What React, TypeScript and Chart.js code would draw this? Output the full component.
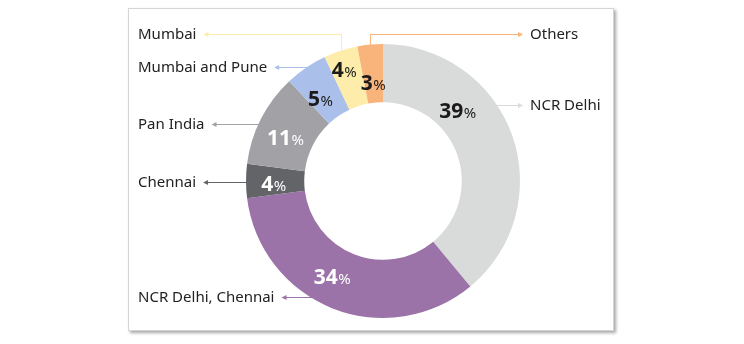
import React, { useEffect, useRef } from "react";
import { Chart, registerables } from "chart.js";

Chart.register(...registerables);

// ---- data ----
const categories = [
  "NCR Delhi",
  "NCR Delhi, Chennai",
  "Chennai",
  "Pan India",
  "Mumbai and Pune",
  "Mumbai",
  "Others",
];
const shares = [39, 34, 4, 11, 5, 4, 3];
const sliceColors = ["#D9DADA", "#9C73A8", "#636468", "#A2A1A5", "#AAC0EA", "#FDECAA", "#F9B47C"];
const valueTextColors = ["#1b1b1b", "#ffffff", "#ffffff", "#ffffff", "#1b1b1b", "#1b1b1b", "#1b1b1b"];

// ---- label layout ----
const calloutSide = ["right", "left", "left", "left", "left", "left", "right"];
const calloutY = [105, 297, 182, 124, 67, 34, 34];
const calloutElbow = [false, false, false, false, false, true, true];
const valueAngleShiftDeg = [-23.6, 6.4, -1.5, -2.8, -3, -1.4, -0.5];
const valueRadiusFrac = [0.41, 0.51, 0.53, 0.49, 0.43, 0.67, 0.34];

const FONT = '"Noto Sans", "Open Sans", sans-serif';

const calloutPlugin = {
  id: "callouts",
  afterDatasetsDraw(chart: any) {
    const ctx: CanvasRenderingContext2D = chart.ctx;
    const meta = chart.getDatasetMeta(0);
    ctx.save();
    meta.data.forEach((arc: any, i: number) => {
      const { x, y, startAngle, endAngle, innerRadius, outerRadius } = arc.getProps(
        ["x", "y", "startAngle", "endAngle", "innerRadius", "outerRadius"],
        true
      );
      const mid = (startAngle + endAngle) / 2;

      // value label
      const a = mid + (valueAngleShiftDeg[i] * Math.PI) / 180;
      const r = innerRadius + (outerRadius - innerRadius) * valueRadiusFrac[i];
      const lx = x + r * Math.cos(a);
      const ly = y + r * Math.sin(a);
      const num = String(shares[i]);
      ctx.font = `bold 21px ${FONT}`;
      const w1 = ctx.measureText(num).width;
      ctx.font = `15px ${FONT}`;
      const w2 = ctx.measureText("%").width;
      const sx = lx - (w1 + w2) / 2;
      const base = ly + 7.5;
      ctx.fillStyle = valueTextColors[i];
      ctx.textAlign = "left";
      ctx.textBaseline = "alphabetic";
      ctx.font = `bold 21px ${FONT}`;
      ctx.fillText(num, sx, base);
      ctx.font = `15px ${FONT}`;
      ctx.fillText("%", sx + w1 + 0.5, base);

      // callout
      const Y = calloutY[i];
      const left = calloutSide[i] === "left";
      ctx.font = `15px ${FONT}`;
      const tw = ctx.measureText(categories[i]).width;
      const textX = left ? 138 : 530;
      const tipX = left ? textX + tw + 7 : 523;
      ctx.strokeStyle = sliceColors[i];
      ctx.fillStyle = sliceColors[i];
      ctx.lineWidth = 1;
      ctx.beginPath();
      let startX: number;
      if (calloutElbow[i]) {
        const px = x + outerRadius * Math.cos(mid);
        const py = y + outerRadius * Math.sin(mid);
        startX = Math.round(px) + 0.5;
        ctx.moveTo(startX, py);
        ctx.lineTo(startX, Y + 0.5);
      } else {
        const dy = Y - y;
        const dx = Math.sqrt(Math.max(0, outerRadius * outerRadius - dy * dy));
        startX = left ? x - dx + 2 : x + dx - 2;
        ctx.moveTo(startX, Y + 0.5);
      }
      const dir = left ? -1 : 1;
      ctx.lineTo(tipX - dir * 4, Y + 0.5);
      ctx.stroke();
      // arrow head
      ctx.beginPath();
      ctx.moveTo(tipX, Y + 0.5);
      ctx.lineTo(tipX - dir * 5, Y + 0.5 - 2.5);
      ctx.lineTo(tipX - dir * 5, Y + 0.5 + 2.5);
      ctx.closePath();
      ctx.fill();

      // text
      ctx.fillStyle = "#222222";
      ctx.textBaseline = "middle";
      ctx.textAlign = "left";
      ctx.fillText(categories[i], textX, Y + 1);
    });
    ctx.restore();
  },
};

export default function App() {
  const canvasRef = useRef<HTMLCanvasElement | null>(null);

  useEffect(() => {
    if (!canvasRef.current) return;
    const chart = new Chart(canvasRef.current, {
      type: "doughnut",
      data: {
        labels: categories,
        datasets: [
          {
            data: shares,
            backgroundColor: sliceColors,
            borderWidth: 0,
          },
        ],
      },
      options: {
        animation: false,
        responsive: false,
        devicePixelRatio: 1,
        cutout: "57.5%",
        layout: { padding: { left: 246, right: 224, top: 44, bottom: 26 } },
        plugins: {
          legend: { display: false },
          tooltip: { enabled: false },
        },
        events: [],
      },
      plugins: [calloutPlugin],
    });
    return () => chart.destroy();
  }, []);

  return (
    <div
      style={{
        position: "fixed",
        left: 0,
        top: 0,
        width: 744,
        height: 344,
        background: "#ffffff",
        overflow: "hidden",
      }}
    >
      <div
        style={{
          position: "absolute",
          left: 128,
          top: 8,
          width: 484,
          height: 321,
          border: "1px solid #d4d4d4",
          boxShadow: "2px 2px 3px rgba(0,0,0,0.35)",
          background: "#ffffff",
        }}
      />
      <canvas
        ref={canvasRef}
        width={744}
        height={344}
        style={{ position: "absolute", left: 0, top: 0, width: 744, height: 344 }}
      />
    </div>
  );
}
